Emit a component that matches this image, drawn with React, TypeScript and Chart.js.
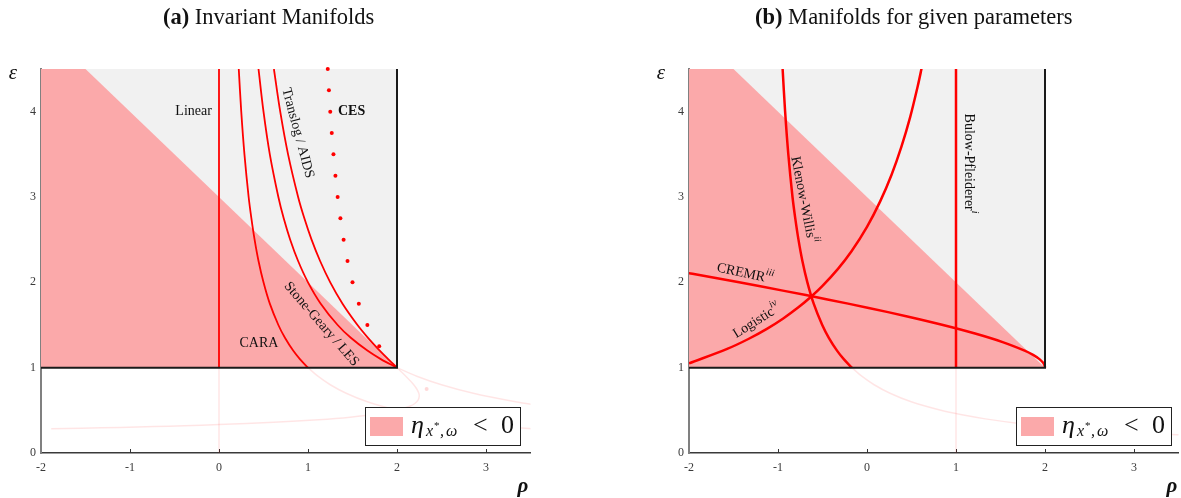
import React, { useEffect, useRef } from "react";
import { Chart, registerables } from "chart.js";

Chart.register(...registerables);

// Points are [rho, epsilon]
type Pair = [number, number];

const xTickValues = [-2, -1, 0, 1, 2, 3];
const yTickValues = [0, 1, 2, 3, 4];

// Shaded areas and the frame of the admissible region
const grayRegion: Pair[] = [[-2, 4.5], [2, 4.5]];
const negativeRegion: Pair[] = [[-2, 4.5], [-1.5, 4.5], [2, 1]];
const frameEdge: Pair[] = [[-2, 1], [2, 1], [2, 4.5]];

// (a) Invariant manifolds
const linearLine: Pair[] = [[0, 1], [0, 4.5]];
const caraCurve: Pair[] = [
  [1, 1], [0.909, 1.1], [0.833, 1.2], [0.741, 1.35], [0.667, 1.5], [0.571, 1.75], [0.5, 2],
  [0.444, 2.25], [0.4, 2.5], [0.364, 2.75], [0.333, 3], [0.286, 3.5], [0.25, 4], [0.222, 4.5],
];
const stoneGearyCurve: Pair[] = [
  [2, 1], [1.818, 1.1], [1.667, 1.2], [1.481, 1.35], [1.333, 1.5], [1.143, 1.75], [1, 2],
  [0.889, 2.25], [0.8, 2.5], [0.727, 2.75], [0.667, 3], [0.571, 3.5], [0.5, 4], [0.444, 4.5],
];
const translogCurve: Pair[] = [
  [2, 1], [1.901, 1.1], [1.806, 1.2], [1.674, 1.35], [1.556, 1.5], [1.388, 1.75], [1.25, 2],
  [1.136, 2.25], [1.04, 2.5], [0.959, 2.75], [0.889, 3], [0.776, 3.5], [0.688, 4], [0.617, 4.5],
];
const cesDots: Pair[] = [
  [1.222, 4.5], [1.235, 4.25], [1.25, 4], [1.267, 3.75], [1.286, 3.5], [1.308, 3.25], [1.333, 3],
  [1.364, 2.75], [1.4, 2.5], [1.444, 2.25], [1.5, 2], [1.571, 1.75], [1.667, 1.5], [1.8, 1.25],
];
// faint continuations below epsilon = 1
const linearGhost: Pair[] = [[0, 0], [0, 1]];
const caraGhost: Pair[] = [
  [1, 1], [1.111, 0.9], [1.25, 0.8], [1.429, 0.7], [1.667, 0.6], [2, 0.5], [2.222, 0.45],
  [2.5, 0.4], [2.857, 0.35], [3.333, 0.3], [3.571, 0.28],
];
const stoneGearyGhost: Pair[] = [[2, 1], [2.222, 0.9], [2.5, 0.8], [2.857, 0.7], [3.333, 0.6], [3.636, 0.55]];
const translogGhost: Pair[] = [
  [2, 1], [2.05, 0.95], [2.099, 0.9], [2.145, 0.85], [2.188, 0.8], [2.222, 0.75], [2.245, 0.7],
  [2.25, 0.667], [2.237, 0.62], [2.2, 0.58], [2.149, 0.55], [2, 0.5], [1.796, 0.46], [1.474, 0.42],
  [1.118, 0.39], [0.617, 0.36], [0, 0.333], [-0.391, 0.32], [-0.728, 0.31], [-1.111, 0.3],
  [-1.546, 0.29], [-1.885, 0.283],
];
const cesGhostDots: Pair[] = [[2.333, 0.75], [3, 0.5]];

// (b) Manifolds for given parameters
const bulowLine: Pair[] = [[1, 1], [1, 4.5]];
const klenowCurve: Pair[] = [
  [-0.17, 1], [-0.261, 1.1], [-0.337, 1.2], [-0.429, 1.35], [-0.503, 1.5], [-0.599, 1.75], [-0.67, 2],
  [-0.726, 2.25], [-0.77, 2.5], [-0.806, 2.75], [-0.837, 3], [-0.884, 3.5], [-0.92, 4], [-0.948, 4.5],
];
const logisticCurve: Pair[] = [
  [-2, 1.05], [-1.571, 1.22], [-1.333, 1.336], [-1.125, 1.455], [-0.941, 1.577], [-0.778, 1.701],
  [-0.632, 1.828], [-0.5, 1.958], [-0.326, 2.158], [-0.174, 2.364], [0, 2.65], [0.148, 2.949],
  [0.276, 3.261], [0.387, 3.59], [0.485, 3.936], [0.571, 4.303], [0.611, 4.496], [0.63, 4.595],
];
const cremrCurve: Pair[] = [
  [-2.228, 2.15], [-1.961, 2.1], [-1.437, 2], [-0.931, 1.9], [-0.444, 1.8], [0.019, 1.7], [0.453, 1.6],
  [0.854, 1.5], [1.214, 1.4], [1.524, 1.3], [1.771, 1.2], [1.866, 1.15], [1.938, 1.1], [1.977, 1.06],
  [1.994, 1.03], [1.999, 1.01], [2, 1],
];
const klenowGhost: Pair[] = [
  [-0.17, 1], [-0.059, 0.9], [0.08, 0.8], [0.259, 0.7], [0.497, 0.6], [0.83, 0.5], [1.052, 0.45],
  [1.33, 0.4], [1.687, 0.35], [2.163, 0.3], [2.534, 0.27], [3, 0.24], [3.481, 0.215], [3.592, 0.21],
];
const bulowGhost: Pair[] = [[1, 0], [1, 1]];

const SERIF = '"Liberation Serif", "Times New Roman", serif';
const font = (size: number, style = "") => `${style} ${size}px ${SERIF}`.trim();

const RED = "#ff0000";
const PINK = "#fba9aa";
const GRAY = "#f1f1f1";
const GHOST = "rgba(255, 0, 0, 0.1)";

interface TextPart { t: string; font: string; dy?: number }
interface CurveLabel { at: Pair; angle: number; align: "left" | "right" | "center"; parts: TextPart[] }

interface Panel {
  width: number;
  axisLeft: number;
  padRight: number;
  lineWidth: number;
  title: TextPart[];
  titleX: number;
  curves: Pair[][];
  ghosts: Pair[][];
  dots: Pair[];
  ghostDots: Pair[];
  labels: CurveLabel[];
  legendX: number;
  epsX: number;
  rhoX: number;
}

const sup = (t: string): TextPart => ({ t, font: font(10, "italic"), dy: -6 });

const panels: Panel[] = [
  {
    width: 590,
    axisLeft: 41,
    padRight: 59.5,
    lineWidth: 1.8,
    title: [{ t: "(a)", font: font(22.5, "bold") }, { t: " Invariant Manifolds", font: font(22.5) }],
    titleX: 163,
    curves: [linearLine, caraCurve, stoneGearyCurve, translogCurve],
    ghosts: [linearGhost, caraGhost, stoneGearyGhost, translogGhost],
    dots: cesDots,
    ghostDots: cesGhostDots,
    labels: [
      { at: [-0.08, 4.0], angle: 0, align: "right", parts: [{ t: "Linear", font: font(14) }] },
      { at: [1.337, 4.0], angle: 0, align: "left", parts: [{ t: "CES", font: font(14, "bold") }] },
      { at: [0.449, 1.287], angle: 0, align: "center", parts: [{ t: "CARA", font: font(14) }] },
      { at: [0.885, 3.749], angle: 75, align: "center", parts: [{ t: "Translog / AIDS", font: font(14) }] },
      { at: [1.15, 1.51], angle: 49, align: "center", parts: [{ t: "Stone-Geary / LES", font: font(14) }] },
    ],
    legendX: 365,
    epsX: 13,
    rhoX: 523,
  },
  {
    width: 591,
    axisLeft: 99,
    padRight: 2.5,
    lineWidth: 2.5,
    title: [{ t: "(b)", font: font(22.5, "bold") }, { t: " Manifolds for given parameters", font: font(22.5) }],
    titleX: 165,
    curves: [bulowLine, klenowCurve, logisticCurve, cremrCurve],
    ghosts: [bulowGhost, klenowGhost],
    dots: [],
    ghostDots: [],
    labels: [
      { at: [1.146, 3.392], angle: 90, align: "center", parts: [{ t: "Bulow-Pfleiderer", font: font(14) }, sup("i")] },
      { at: [-0.716, 2.968], angle: 79, align: "center", parts: [{ t: "Klenow-Willis", font: font(14) }, sup("ii")] },
      { at: [-1.371, 2.102], angle: 12, align: "center", parts: [{ t: "CREMR", font: font(14) }, sup("iii")] },
      { at: [-1.239, 1.547], angle: -32, align: "center", parts: [{ t: "Logistic", font: font(14) }, sup("iv")] },
    ],
    legendX: 426,
    epsX: 71,
    rhoX: 582,
  },
];

const toPoints = (pts: Pair[]) => pts.map(([x, y]) => ({ x, y }));

function drawParts(
  ctx: CanvasRenderingContext2D,
  parts: TextPart[],
  x: number,
  y: number,
  angle: number,
  align: "left" | "right" | "center",
) {
  ctx.save();
  ctx.translate(x, y);
  ctx.rotate((angle * Math.PI) / 180);
  ctx.textBaseline = "middle";
  ctx.textAlign = "left";
  const widths = parts.map((p) => {
    ctx.font = p.font;
    return ctx.measureText(p.t).width;
  });
  const total = widths.reduce((a, b) => a + b, 0);
  let cx = align === "center" ? -total / 2 : align === "right" ? -total : 0;
  parts.forEach((p, i) => {
    ctx.font = p.font;
    ctx.fillText(p.t, cx, p.dy ?? 0);
    cx += widths[i];
  });
  ctx.restore();
}

function annotations(panel: Panel) {
  return {
    id: "panelAnnotations",
    beforeDatasetsDraw(chart: any) {
      const { ctx, scales } = chart;
      const x = scales.x;
      const y0 = scales.y.getPixelForValue(0);
      ctx.save();
      ctx.strokeStyle = "#333";
      ctx.lineWidth = 1;
      xTickValues.slice(1).forEach((v) => {
        const px = Math.round(x.getPixelForValue(v)) + 0.5;
        ctx.beginPath();
        ctx.moveTo(px, y0);
        ctx.lineTo(px, y0 - 4);
        ctx.stroke();
      });
      ctx.restore();
    },
    afterDraw(chart: any) {
      const { ctx, scales } = chart;
      const xs = scales.x;
      const ys = scales.y;
      ctx.save();
      ctx.fillStyle = "#111";
      // title
      drawParts(ctx, panel.title, panel.titleX, 18, 0, "left");
      // axis names
      drawParts(ctx, [{ t: "ε", font: font(21, "italic") }], panel.epsX, 73, 0, "center");
      drawParts(ctx, [{ t: "ρ", font: font(21, "bold italic") }], panel.rhoX, 487, 0, "center");
      // curve labels
      panel.labels.forEach((l) => {
        drawParts(ctx, l.parts, xs.getPixelForValue(l.at[0]), ys.getPixelForValue(l.at[1]), l.angle, l.align);
      });
      // legend
      const bx = panel.legendX;
      const by = 407;
      ctx.fillStyle = "#fff";
      ctx.fillRect(bx, by, 155, 38);
      ctx.strokeStyle = "#222";
      ctx.lineWidth = 1;
      ctx.strokeRect(bx + 0.5, by + 0.5, 155, 38);
      ctx.fillStyle = PINK;
      ctx.fillRect(bx + 5, by + 10, 33, 19);
      ctx.fillStyle = "#111";
      ctx.textBaseline = "alphabetic";
      ctx.textAlign = "left";
      const base = by + 26;
      ctx.font = font(26, "italic");
      ctx.fillText("η", bx + 46, base);
      ctx.font = font(16, "italic");
      ctx.fillText("x", bx + 61, base + 3);
      ctx.font = font(11);
      ctx.fillText("*", bx + 69, base - 4);
      ctx.font = font(16, "italic");
      ctx.fillText(",", bx + 75, base + 3);
      ctx.fillText("ω", bx + 81, base + 3);
      ctx.font = font(26);
      ctx.fillText("<", bx + 108, base);
      ctx.fillText("0", bx + 136, base);
      ctx.restore();
    },
  };
}

function buildChart(canvas: HTMLCanvasElement, panel: Panel) {
  const tickFont = { family: SERIF, size: 12 };
  const region = (pts: Pair[], color: string, order: number) => ({
    data: toPoints(pts),
    fill: { value: 1 },
    backgroundColor: color,
    borderWidth: 0,
    pointRadius: 0,
    tension: 0,
    order,
  });
  const line = (pts: Pair[], color: string, width: number, order: number) => ({
    data: toPoints(pts),
    borderColor: color,
    borderWidth: width,
    pointRadius: 0,
    fill: false,
    tension: 0.35,
    order,
  });
  const datasets: any[] = [
    region(grayRegion, GRAY, 40),
    region(negativeRegion, PINK, 39),
    ...panel.ghosts.map((g) => line(g, GHOST, 1.5, 30)),
    ...panel.curves.map((c) => line(c, RED, panel.lineWidth, 10)),
    { ...line(frameEdge, "#1a1a1a", 2, 5), tension: 0 },
  ];
  if (panel.dots.length) {
    datasets.push({
      data: toPoints(panel.dots),
      showLine: false,
      pointRadius: 2,
      pointBackgroundColor: RED,
      pointBorderWidth: 0,
      clip: false,
      order: 2,
    });
  }
  if (panel.ghostDots.length) {
    datasets.push({
      data: toPoints(panel.ghostDots),
      showLine: false,
      pointRadius: 2,
      pointBackgroundColor: "rgba(255,0,0,0.15)",
      pointBorderWidth: 0,
      order: 29,
    });
  }
  return new Chart(canvas, {
    type: "line",
    data: { datasets },
    options: {
      animation: false,
      responsive: false,
      devicePixelRatio: 1,
      layout: { padding: { top: 69, right: panel.padRight, left: 0, bottom: 0 } },
      plugins: { legend: { display: false }, tooltip: { enabled: false }, title: { display: false } },
      scales: {
        x: {
          type: "linear",
          min: -2,
          max: 3.5,
          grid: { display: false, drawTicks: false },
          border: { display: true, color: "#3a3a3a", width: 1.5 },
          ticks: { font: tickFont, color: "#3a3a3a", padding: 8, maxRotation: 0 },
          afterBuildTicks: (s: any) => {
            s.ticks = xTickValues.map((v) => ({ value: v }));
          },
          afterFit: (s: any) => {
            s.height = 45;
          },
        },
        y: {
          type: "linear",
          min: 0,
          max: 4.5,
          grid: { display: false, drawTicks: false },
          border: { display: true, color: "#808080", width: 2 },
          ticks: { font: tickFont, color: "#3a3a3a", padding: 5 },
          afterBuildTicks: (s: any) => {
            s.ticks = yTickValues.map((v) => ({ value: v }));
          },
          afterFit: (s: any) => {
            s.width = panel.axisLeft;
          },
        },
      },
    } as any,
    plugins: [annotations(panel)],
  });
}

function PanelChart({ panel, left }: { panel: Panel; left: number }) {
  const ref = useRef<HTMLCanvasElement | null>(null);
  useEffect(() => {
    if (!ref.current) return;
    const chart = buildChart(ref.current, panel);
    return () => chart.destroy();
  }, [panel]);
  return (
    <canvas
      ref={ref}
      width={panel.width}
      height={498}
      style={{ position: "absolute", left, top: 0, width: panel.width, height: 498, display: "block" }}
    />
  );
}

export default function App() {
  return (
    <div style={{ position: "absolute", left: 0, top: 0, width: 1181, height: 498, background: "#fff", overflow: "hidden" }}>
      <PanelChart panel={panels[0]} left={0} />
      <PanelChart panel={panels[1]} left={590} />
    </div>
  );
}
